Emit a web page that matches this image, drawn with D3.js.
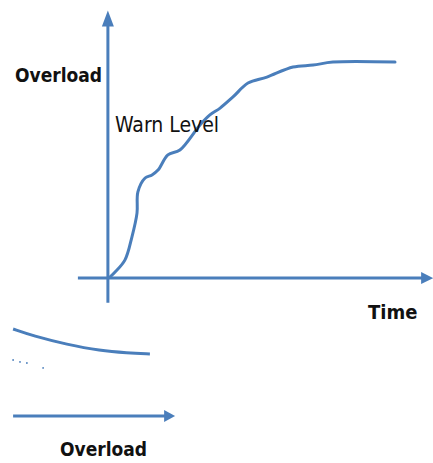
<!DOCTYPE html>
<html>
<head>
<meta charset="utf-8">
<script src="https://cdn.jsdelivr.net/npm/d3@7"></script>
<style>
  body { margin: 0; background: #fff; }
  text { font-family: "DejaVu Sans Condensed", "DejaVu Sans", sans-serif; fill: #111; }
</style>
</head>
<body>
<svg id="chart" width="433" height="463"></svg>
<script>
// load curve, time vs overload
const timeVals = [0, 0.17, 0.5, 0.73, 0.9, 0.93, 1.17, 1.4, 1.6, 1.93, 2.33, 3.0, 3.33, 3.67, 4.1, 4.6, 5.23, 6.1, 6.77, 7.43, 9.5];
const loadVals = [0, 0.18, 0.63, 1.47, 2.35, 3.13, 3.64, 3.75, 3.93, 4.49, 4.67, 5.59, 5.96, 6.21, 6.62, 7.13, 7.35, 7.72, 7.79, 7.9, 7.9];

// lower fragment (decaying curve + dots)
const lowX = [-3.23, -2.57, -1.43, -0.33, 0.57, 1.33];
const lowY = [2.5, 2.25, 1.93, 1.7, 1.62, 1.58];
const dotX = [-3.23, -3.0, -2.77, -2.23];
const dotY = [1.36, 1.29, 1.25, 1.07];

const labels = {yTitle: "Overload", warn: "Warn Level", xTitle: "Time", bottom: "Overload"};

const blue = "#4a7ebb";
const svg = d3.select("#chart");

const x = d3.scaleLinear().domain([0, 10]).range([110, 410]);
const y = d3.scaleLinear().domain([0, 10]).range([277, 5]);
const yLow = d3.scaleLinear().domain([0, 10]).range([397, 125]);

const tri = (tx, ty, dir, w, h) => {
    if (dir === "up") return `M${tx},${ty}L${tx - w / 2},${ty + h}L${tx + w / 2},${ty + h}Z`;
    return `M${tx},${ty}L${tx - h},${ty - w / 2}L${tx - h},${ty + w / 2}Z`;
};

// axes
svg.append("line")
    .attr("x1", x(-0.07)).attr("x2", x(-0.07))
    .attr("y1", y(-0.95)).attr("y2", y(9.5))
    .attr("stroke", blue).attr("stroke-width", 3);
svg.append("path").attr("d", tri(x(-0.07), y(9.8), "up", 12, 16)).attr("fill", blue);

svg.append("line")
    .attr("x1", x(-1.07)).attr("x2", x(10.5))
    .attr("y1", y(-0.04)).attr("y2", y(-0.04))
    .attr("stroke", blue).attr("stroke-width", 3);
svg.append("path").attr("d", tri(x(10.77), y(-0.04), "right", 12, 12)).attr("fill", blue);

// main curve
const line = d3.line()
    .x(i => x(timeVals[i]))
    .y(i => y(loadVals[i]))
    .curve(d3.curveCatmullRom);
svg.append("path")
    .attr("d", line(d3.range(timeVals.length)))
    .attr("fill", "none")
    .attr("stroke", blue)
    .attr("stroke-width", 3)
    .attr("stroke-linecap", "round");

// lower fragment
const lowLine = d3.line()
    .x(i => x(lowX[i]))
    .y(i => yLow(lowY[i]))
    .curve(d3.curveBasis);
svg.append("path")
    .attr("d", lowLine(d3.range(lowX.length)))
    .attr("fill", "none")
    .attr("stroke", blue)
    .attr("stroke-width", 3);

svg.selectAll("circle.dot")
    .data(d3.range(dotX.length))
    .join("circle")
    .attr("class", "dot")
    .attr("cx", i => x(dotX[i]))
    .attr("cy", i => yLow(dotY[i]))
    .attr("r", 0.9)
    .attr("fill", blue);

svg.append("line")
    .attr("x1", x(-3.23)).attr("x2", x(1.9))
    .attr("y1", yLow(-0.7)).attr("y2", yLow(-0.7))
    .attr("stroke", blue).attr("stroke-width", 3);
svg.append("path").attr("d", tri(x(2.17), yLow(-0.7), "right", 12, 11)).attr("fill", blue);

// labels
svg.append("text").attr("x", 15).attr("y", 82)
    .attr("font-size", 19).attr("font-weight", "bold").text(labels.yTitle);
svg.append("text").attr("x", 115).attr("y", 132)
    .attr("font-size", 21).text(labels.warn);
svg.append("text").attr("x", 368).attr("y", 319)
    .attr("font-size", 20).attr("font-weight", "bold").text(labels.xTitle);
svg.append("text").attr("x", 60).attr("y", 456)
    .attr("font-size", 19).attr("font-weight", "bold").text(labels.bottom);
</script>
</body>
</html>
